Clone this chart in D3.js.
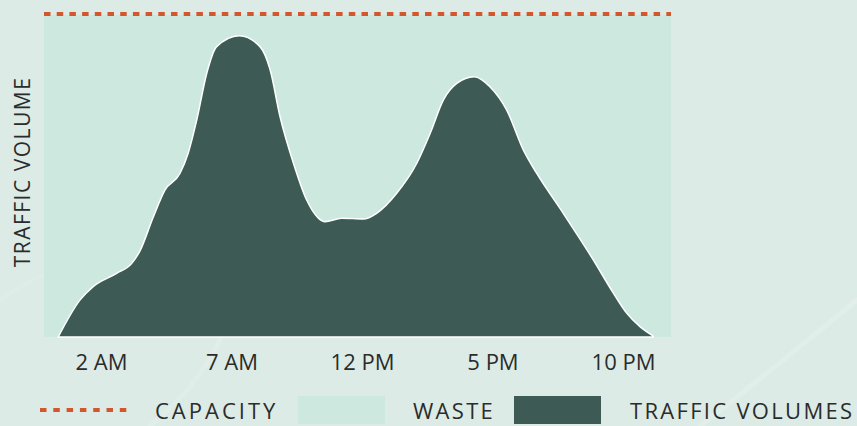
<!DOCTYPE html>
<html>
<head>
<meta charset="utf-8">
<script src="https://cdn.jsdelivr.net/npm/d3@7/dist/d3.min.js"></script>
<style>
  html, body { margin: 0; padding: 0; background: #dcebe6; }
  svg { display: block; }
  text { font-family: "Open Sans", sans-serif; fill: #2b2b2b; }
</style>
</head>
<body>
<script>
// ---- data ----
const hours = [0.36, 1.2, 1.7, 2.6, 3.18, 3.49, 4.0, 4.45, 5.03, 5.34, 5.67, 6.05, 6.43, 7.3, 8.09, 8.48, 8.86, 9.37, 9.88, 10.33, 10.58, 11.22, 12.05, 12.56, 13.33, 14.1, 14.61, 15.12, 15.63, 16.3, 16.9, 17.54, 18.18, 18.69, 19.71, 20.86, 21.63, 22.14, 22.65, 23.16];
const volumes = [0, 11.5, 15.6, 19.7, 22.8, 26.6, 37.1, 45.5, 50.7, 56.9, 67.2, 81.6, 89.9, 93.3, 89.9, 82.7, 68.2, 53.9, 42.4, 36.8, 35.7, 36.8, 36.5, 38.3, 44.5, 53.8, 63.0, 73.4, 78.5, 80.6, 77.5, 70.3, 57.9, 50.7, 38.3, 23.9, 13.6, 7.4, 3.2, 0.3];
const capacity = 100;
const tickHours = [2, 7, 12, 17, 22];
const tickLabels = ["2 AM", "7 AM", "12 PM", "5 PM", "10 PM"];
const legendLabels = ["CAPACITY", "WASTE", "TRAFFIC VOLUMES"];
const yLabel = "TRAFFIC VOLUME";

const W = 857, H = 426;
const plot = { left: 44, right: 671, top: 14, bottom: 337 };

const svg = d3.select("body").append("svg").attr("width", W).attr("height", H);

// faint background texture
const bg = svg.append("g").attr("fill", "none").attr("stroke", "#ffffff").attr("stroke-linecap", "round");
bg.append("path").attr("d", "M700,426 C760,380 820,330 857,300").attr("stroke-width", 5).attr("stroke-opacity", 0.18);
bg.append("path").attr("d", "M0,300 C60,260 100,250 140,240").attr("stroke-width", 4).attr("stroke-opacity", 0.1);
bg.append("path").attr("d", "M150,426 C180,400 200,380 220,340").attr("stroke-width", 5).attr("stroke-opacity", 0.12);

const x = d3.scaleLinear()
  .domain([2 - (101 - plot.left) / 26.1, 22 + (plot.right - 623) / 26.1])
  .range([plot.left, plot.right]);
const y = d3.scaleLinear().domain([0, capacity]).range([plot.bottom, plot.top]);

// waste background (plot area)
svg.append("rect")
  .attr("x", plot.left).attr("y", plot.top + 1)
  .attr("width", plot.right - plot.left).attr("height", plot.bottom - plot.top - 1)
  .attr("fill", "#cce8df");

const data = hours.map((h, i) => ({ h, v: volumes[i] }));
const area = d3.area()
  .x(d => x(d.h))
  .y0(y(0))
  .y1(d => y(d.v))
  .curve(d3.curveMonotoneX);

svg.append("path")
  .datum(data)
  .attr("d", area)
  .attr("fill", "#3e5a54")
  .attr("stroke", "#ffffff")
  .attr("stroke-width", 1.5)
  .attr("stroke-linejoin", "round");

// capacity line
svg.append("line")
  .attr("x1", plot.left).attr("x2", plot.right)
  .attr("y1", y(capacity)).attr("y2", y(capacity))
  .attr("stroke", "#d3572c").attr("stroke-width", 4)
  .attr("stroke-dasharray", "6.5,6.2");

// x axis
const xAxis = d3.axisBottom(x)
  .tickValues(tickHours)
  .tickFormat((d, i) => tickLabels[i])
  .tickSize(0)
  .tickPadding(0);
const gx = svg.append("g").attr("transform", `translate(0,${plot.bottom})`).call(xAxis);
gx.select(".domain").remove();
gx.selectAll("text")
  .attr("y", 33).attr("dy", null)
  .style("font-family", "'Open Sans', sans-serif")
  .style("font-size", "22px")
  .attr("fill", "#2b2b2b");

// y label
svg.append("text")
  .attr("transform", "translate(30,172) rotate(-90)")
  .attr("text-anchor", "middle")
  .style("font-size", "21px")
  .style("letter-spacing", "1.5px")
  .text(yLabel);

// legend
const lg = svg.append("g");
lg.append("line")
  .attr("x1", 40).attr("x2", 127).attr("y1", 410).attr("y2", 410)
  .attr("stroke", "#d3572c").attr("stroke-width", 4)
  .attr("stroke-dasharray", "6.5,6.8");
lg.append("rect").attr("x", 298).attr("y", 396).attr("width", 87).attr("height", 28).attr("fill", "#cce8df");
lg.append("rect").attr("x", 514).attr("y", 396).attr("width", 87).attr("height", 28).attr("fill", "#3e5a54");
const legendX = [155, 413, 630];
const legendLS = ["3px", "2.3px", "2.3px"];
legendLabels.forEach((t, i) => {
  lg.append("text")
    .attr("x", legendX[i]).attr("y", 419)
    .style("font-size", "22px")
    .style("letter-spacing", legendLS[i])
    .text(t);
});
</script>
</body>
</html>
